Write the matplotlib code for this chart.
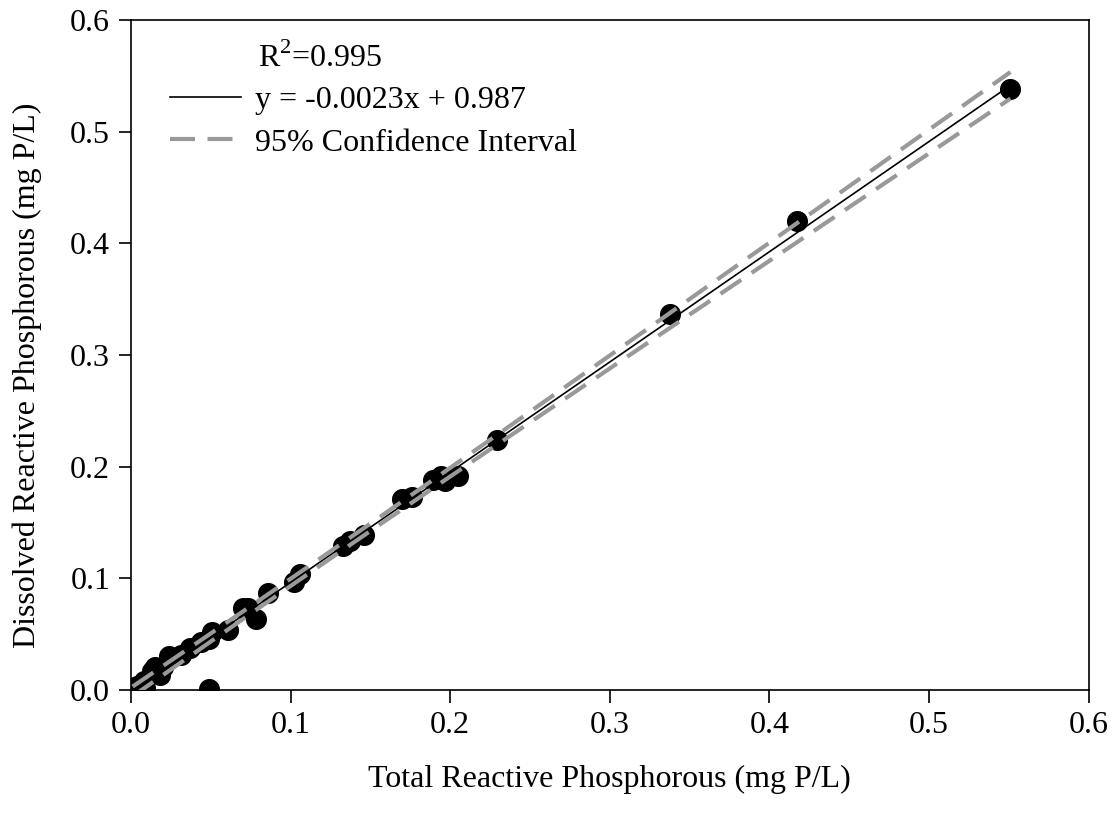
import numpy as np
import matplotlib.pyplot as plt

plt.rcParams['font.family'] = ['Liberation Serif', 'DejaVu Serif']
plt.rcParams['mathtext.fontset'] = 'custom'
plt.rcParams['mathtext.rm'] = 'Liberation Serif'

# total vs dissolved reactive phosphorous (mg P/L)
trp = [0.551, 0.417, 0.338, 0.229, 0.205, 0.197, 0.194, 0.189, 0.176, 0.170,
       0.146, 0.137, 0.133, 0.106, 0.102, 0.086, 0.078, 0.073, 0.070, 0.061,
       0.051, 0.049, 0.049, 0.044, 0.037, 0.031, 0.024, 0.020, 0.015, 0.013,
       0.018, 0.008, 0.004, 0.001, 0.009]
drp = [0.538, 0.420, 0.337, 0.224, 0.192, 0.187, 0.192, 0.188, 0.173, 0.171,
       0.139, 0.133, 0.129, 0.104, 0.097, 0.087, 0.064, 0.073, 0.073, 0.054,
       0.052, 0.046, 0.001, 0.043, 0.038, 0.031, 0.030, 0.021, 0.021, 0.017,
       0.013, 0.008, 0.004, 0.002, 0.002]

slope = 0.987
intercept = -0.0023
r2_label = r"R$^\mathrm{2}$=0.995"
fit_label = "y = -0.0023x + 0.987"
ci_label = "95% Confidence Interval"

x = np.array(trp)
y = np.array(drp)
n = len(x)

# regression line and 95% confidence band
xf = np.linspace(x.min(), x.max(), 200)
yf = slope * xf + intercept
resid = y - (slope * x + intercept)
s = np.sqrt(np.sum(resid**2) / (n - 2))
sxx = np.sum((x - x.mean())**2)
half = 2.03 * s * np.sqrt(1.0 / n + (xf - x.mean())**2 / sxx)

fig = plt.figure(figsize=(11.2, 8.18), dpi=100)
ax = fig.add_axes([0.117, 0.1565, 0.855, 0.819])

ax.scatter(x, y, s=200, color='black', zorder=3)
ax.plot(xf, yf, color='black', lw=1.2, label=fit_label, zorder=4)
ax.plot(xf, yf + half, color='#999999', lw=3, ls=(0, (6, 3)), label=ci_label, zorder=5)
ax.plot(xf, yf - half, color='#999999', lw=3, ls=(0, (6, 3)), zorder=5)

ax.set_xlim(0, 0.6)
ax.set_ylim(0, 0.6)
ax.set_xticks(np.arange(0, 0.61, 0.1))
ax.set_yticks(np.arange(0, 0.61, 0.1))
ax.xaxis.set_major_formatter(plt.FormatStrFormatter('%.1f'))
ax.yaxis.set_major_formatter(plt.FormatStrFormatter('%.1f'))
ax.tick_params(labelsize=23, length=9, width=1.2, direction='out', pad=6)
for sp in ax.spines.values():
    sp.set_linewidth(1.2)

ax.set_xlabel('Total Reactive Phosphorous (mg P/L)', fontsize=23, labelpad=18)
ax.set_ylabel('Dissolved Reactive Phosphorous (mg P/L)', fontsize=23)
ax.yaxis.set_label_coords(-0.093, 0.47)

ax.text(0.0795, 0.566, r2_label, fontsize=23, va='center', ha='left')
ax.legend(loc='upper left', bbox_to_anchor=(0.041, 0.9015), frameon=False,
          fontsize=23, handlelength=2.2, handletextpad=0.45, labelspacing=0.4,
          borderpad=0, borderaxespad=0)

fig.savefig('out.png', dpi=100)
